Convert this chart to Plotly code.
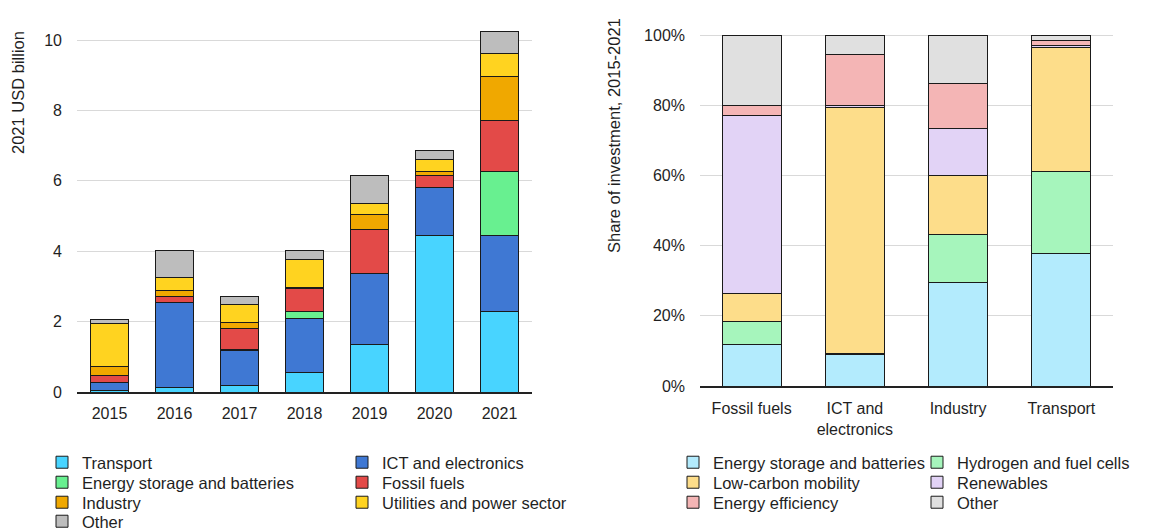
import plotly.graph_objects as go

# ---------------- data: left chart (2021 USD billion) ----------------
years = ["2015", "2016", "2017", "2018", "2019", "2020", "2021"]
transport = [0.05, 0.12, 0.18, 0.55, 1.35, 4.45, 2.30]
ict = [0.22, 2.42, 1.01, 1.53, 2.03, 1.36, 2.16]
energy_storage = [0.0, 0.0, 0.02, 0.21, 0.0, 0.0, 1.80]
fossil = [0.21, 0.17, 0.58, 0.66, 1.25, 0.33, 1.45]
industry = [0.24, 0.16, 0.18, 0.03, 0.41, 0.12, 1.26]
utilities = [1.24, 0.38, 0.52, 0.79, 0.32, 0.35, 0.65]
other_left = [0.11, 0.78, 0.22, 0.24, 0.78, 0.24, 0.61]

# ---------------- data: right chart (share of investment, %) ----------------
sectors = ["Fossil fuels", "ICT and<br>electronics", "Industry", "Transport"]
r_storage = [11.9, 9.0, 29.5, 37.9]
r_hydrogen = [6.5, 0.3, 13.8, 23.4]
r_mobility = [8.1, 70.1, 16.7, 35.2]
r_renewables = [50.5, 0.6, 13.5, 0.5]
r_efficiency = [3.0, 14.6, 12.7, 1.5]
r_other = [20.0, 5.4, 13.8, 1.5]

FONT = "Liberation Sans, Arial, sans-serif"
TXT = "#1f1f1f"
OUTLINE = dict(color="#1a1a1a", width=1)

# the page body has an 8px margin, so the figure starts at (8, 8) in the window
OFF = 8
W, H = 1157, 531
def px_x(v): return (v - OFF) / W
def px_y(v): return 1 - (v - OFF) / H

fig = go.Figure()

left_series = [
    ("Transport", transport, "#48D4FF", "legend"),
    ("ICT and electronics", ict, "#3F78D3", "legend"),
    ("Energy storage and batteries", energy_storage, "#68F090", "legend2"),
    ("Fossil fuels", fossil, "#E34A48", "legend2"),
    ("Industry", industry, "#F0A800", "legend3"),
    ("Utilities and power sector", utilities, "#FFD320", "legend3"),
    ("Other", other_left, "#BDBDBD", "legend4"),
]
for name, vals, col, lg in left_series:
    fig.add_trace(go.Bar(x=years, y=vals, name=name, marker=dict(color=col, line=OUTLINE),
                         xaxis="x", yaxis="y", legend=lg))

right_series = [
    ("Energy storage and batteries", r_storage, "#B3EBFD", "legend5"),
    ("Hydrogen and fuel cells", r_hydrogen, "#A6F5BC", "legend5"),
    ("Low-carbon mobility", r_mobility, "#FDDD8A", "legend6"),
    ("Renewables", r_renewables, "#E2D3F6", "legend6"),
    ("Energy efficiency", r_efficiency, "#F4B5B5", "legend7"),
    ("Other", r_other, "#E0E0E0", "legend7"),
]
for name, vals, col, lg in right_series:
    fig.add_trace(go.Bar(x=sectors, y=vals, name=name, marker=dict(color=col, line=OUTLINE),
                         xaxis="x2", yaxis="y2", legend=lg))

tickfont = dict(family=FONT, size=16, color=TXT)

def row_legend(x, y, entry):
    return dict(orientation="h", traceorder="normal", font=dict(family=FONT, size=16.5, color=TXT),
                bgcolor="rgba(0,0,0,0)", borderwidth=0, itemwidth=30, xanchor="left", yanchor="middle",
                entrywidth=entry, entrywidthmode="pixels", x=px_x(x), y=px_y(y))

LEFT_COL, RIGHT_COL = 42, 673
LEFT_ENTRY, RIGHT_ENTRY = 255, 199
fig.update_layout(
    width=W, height=H,
    margin=dict(l=0, r=0, t=0, b=0, autoexpand=False),
    paper_bgcolor="white", plot_bgcolor="white",
    barmode="stack", bargap=0.43,
    font=dict(family=FONT, size=16, color=TXT),
    showlegend=True,
    xaxis=dict(domain=[px_x(77), px_x(532)], anchor="y", showline=True, linecolor="#222", linewidth=1.5,
               ticks="", tickfont=tickfont, ticklabelstandoff=6, showgrid=False, fixedrange=True),
    yaxis=dict(domain=[px_y(392), px_y(22.4)], anchor="x", range=[0, 10.5], tickvals=[0, 2, 4, 6, 8, 10],
               showgrid=True, gridcolor="#D9D9D9", gridwidth=1, zeroline=False, ticks="",
               tickfont=tickfont, ticklabelstandoff=14, fixedrange=True),
    xaxis2=dict(domain=[px_x(700), px_x(1113)], anchor="y2", showline=True, linecolor="#222", linewidth=1.5,
                ticks="", tickfont=tickfont, ticklabelstandoff=7, showgrid=False, fixedrange=True),
    yaxis2=dict(domain=[px_y(386), px_y(17.8)], anchor="x2", range=[0, 105],
                tickvals=[0, 20, 40, 60, 80, 100], ticktext=["0%", "20%", "40%", "60%", "80%", "100%"],
                showgrid=True, gridcolor="#D9D9D9", gridwidth=1, zeroline=False, ticks="",
                tickfont=tickfont, ticklabelstandoff=14, fixedrange=True),
    legend=row_legend(LEFT_COL, 462.5, LEFT_ENTRY),
    legend2=row_legend(LEFT_COL, 482.5, LEFT_ENTRY),
    legend3=row_legend(LEFT_COL, 502.5, LEFT_ENTRY),
    legend4=row_legend(LEFT_COL, 521.5, LEFT_ENTRY),
    legend5=row_legend(RIGHT_COL, 462.5, RIGHT_ENTRY),
    legend6=row_legend(RIGHT_COL, 482.5, RIGHT_ENTRY),
    legend7=row_legend(RIGHT_COL, 502.5, RIGHT_ENTRY),
    annotations=[
        dict(text="2021 USD billion", x=px_x(18), y=px_y(93), xref="paper", yref="paper",
             textangle=-90, showarrow=False, font=dict(family=FONT, size=16.5, color=TXT),
             xanchor="center", yanchor="middle"),
        dict(text="Share of investment, 2015-2021", x=px_x(614), y=px_y(136), xref="paper", yref="paper",
             textangle=-90, showarrow=False, font=dict(family=FONT, size=16.5, color=TXT),
             xanchor="center", yanchor="middle"),
    ],
)

fig.write_html("out.html")
